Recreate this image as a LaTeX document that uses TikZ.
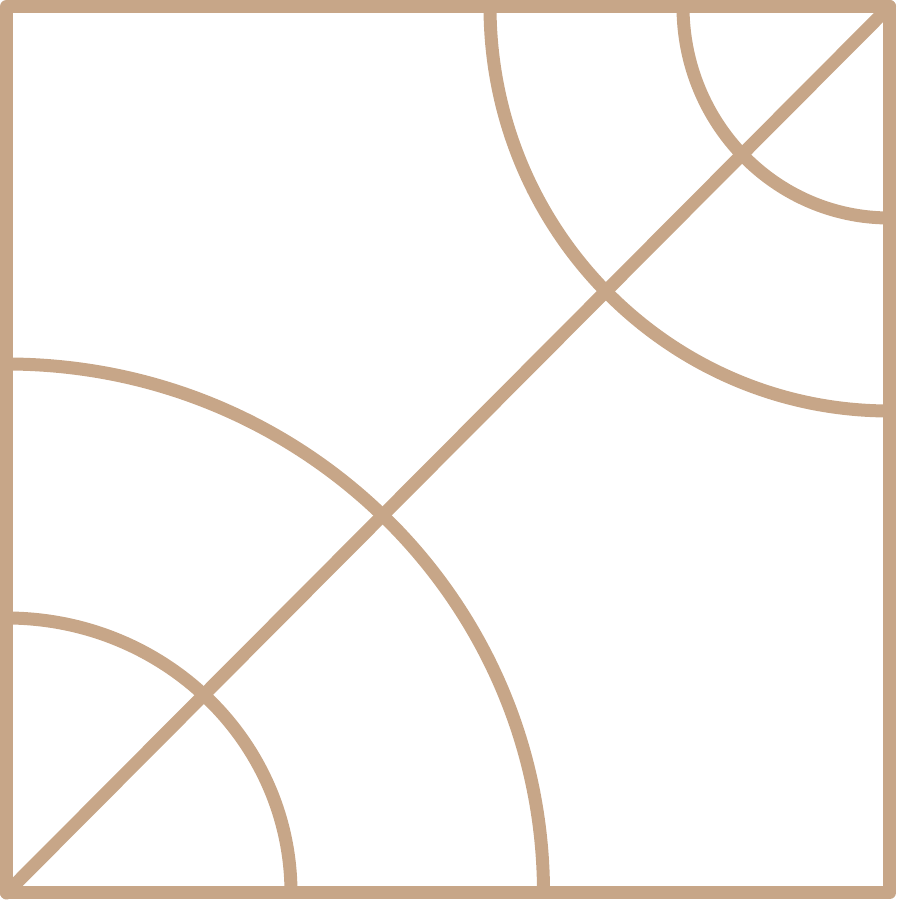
\documentclass[tikz,border=0pt]{standalone}
\usepackage{tikz}
\usetikzlibrary{positioning}
\usepackage{xcolor}
\definecolor{dftan}{RGB}{199,166,136}
\tikzstyle{frame} = [line width=13pt, draw=dftan, line join=round, line cap=round]
\tikzstyle{ring} = [line width=13pt, draw=dftan]

\begin{document}
\begin{tikzpicture}[x=1pt, y=1pt]
\useasboundingbox (0,0) rectangle (898,900);
% Corners
\coordinate (bl) at (6.5,7);
\coordinate (tr) at (889.5,893.5);
\coordinate (tl) at (6.5,893.5);
\coordinate (br) at (889.5,7);

% Frame and diagonal
\draw[frame] (bl) -- (tl) -- (tr) -- (br) -- cycle;
\draw[frame] (bl) -- (tr);

% Arcs at lower left
\draw[ring] ([yshift=275pt]bl) arc[start angle=90, end angle=0, x radius=284.5, y radius=275];
\draw[ring] ([yshift=529pt]bl) arc[start angle=90, end angle=0, x radius=537, y radius=529];

% Arcs at upper right
\draw[ring] ([xshift=-206.5pt]tr) arc[start angle=180, end angle=270, x radius=206.5, y radius=211.5];
\draw[ring] ([xshift=-399.5pt]tr) arc[start angle=180, end angle=270, x radius=399.5, y radius=404.5];
\end{tikzpicture}
\end{document}
